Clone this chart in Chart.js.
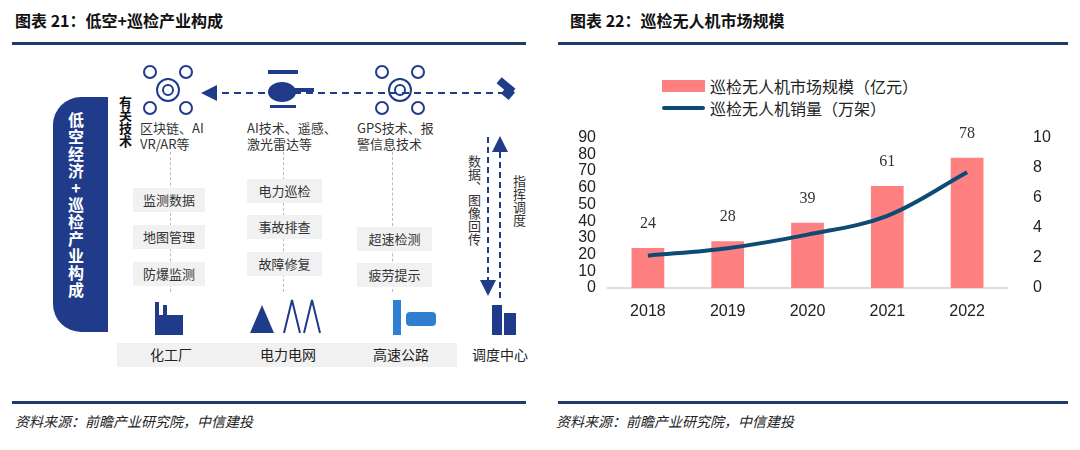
<!DOCTYPE html>
<html><head><meta charset="utf-8">
<script src="https://cdn.jsdelivr.net/npm/chart.js@4"></script>
<style>
body{margin:0;width:1080px;height:450px;background:#fff;font-family:"Noto Sans CJK SC","Liberation Sans",sans-serif;position:relative;overflow:hidden}
.a{position:absolute;white-space:nowrap}
.t{font-weight:bold;font-size:16px;color:#111;top:8px}
.rule{position:absolute;height:3px;background:#1f3b6e}
.src{font-style:italic;font-size:14px;color:#222;top:411px}
.box{position:absolute;background:#f1f1f1;font-size:13px;color:#333;text-align:center;line-height:24px}
.tech{font-size:13px;color:#333;line-height:16px}
.vt{writing-mode:vertical-rl;text-orientation:upright;width:18px}
.dl{position:absolute;border-left:1px dashed #bbb;width:0}
.lab{font-size:14px;color:#222}
</style></head><body>
<div class="a t" style="left:15px">图表 21：低空+巡检产业构成</div>
<div class="a t" style="left:570px">图表 22：巡检无人机市场规模</div>
<div class="rule" style="left:12px;width:514px;top:42px"></div>
<div class="rule" style="left:558px;width:510px;top:42px"></div>
<div class="rule" style="left:12px;width:514px;top:401px"></div>
<div class="rule" style="left:558px;width:510px;top:401px"></div>
<div class="a src" style="left:15px">资料来源：前瞻产业研究院，中信建投</div>
<div class="a src" style="left:556px">资料来源：前瞻产业研究院，中信建投</div>

<!-- left diagram -->
<div class="a" style="left:53px;top:97px;width:55px;height:235px;background:#1f3b8a;border-radius:28px 0 0 28px"></div>
<div class="a vt" style="left:69px;top:112px;height:215px;color:#fff;font-weight:bold;font-size:16px;line-height:22px;letter-spacing:1px">低空经济+巡检产业构成</div>
<div class="a vt" style="left:117px;top:96px;height:70px;font-weight:bold;font-size:13px;color:#111">有关技术</div>
<svg class="a" style="left:0;top:0" width="560" height="400">
 <defs><marker id="ah" markerWidth="8" markerHeight="8" refX="6" refY="4" orient="auto"><path d="M0,0 L8,4 L0,8z" fill="#1f3b8a"/></marker></defs>
 <line x1="505" y1="93" x2="205" y2="93" stroke="#1f3b8a" stroke-width="2" stroke-dasharray="7,5" marker-end="url(#ah)"/>
 <line x1="488" y1="137" x2="488" y2="292" stroke="#1f3b8a" stroke-width="2" stroke-dasharray="6,4" marker-end="url(#ah)"/>
 <line x1="500" y1="298" x2="500" y2="140" stroke="#1f3b8a" stroke-width="2" stroke-dasharray="6,4" marker-end="url(#ah)"/>
 <g fill="none" stroke="#1f3b8a" stroke-width="2">
  <circle cx="168" cy="90" r="11"/><circle cx="168" cy="90" r="5"/>
  <circle cx="150" cy="72" r="6"/><circle cx="186" cy="72" r="6"/><circle cx="150" cy="108" r="6"/><circle cx="186" cy="108" r="6"/>
  <circle cx="400" cy="90" r="11"/><circle cx="400" cy="90" r="5"/>
  <circle cx="382" cy="72" r="6"/><circle cx="418" cy="72" r="6"/><circle cx="382" cy="108" r="6"/><circle cx="418" cy="108" r="6"/>
 </g>
 <g fill="#1f3b8a">
  <rect x="268" y="70" width="30" height="4"/><ellipse cx="282" cy="92" rx="14" ry="10"/><rect x="292" y="88" width="22" height="4"/><rect x="270" y="105" width="26" height="3"/>
  <rect x="497" y="82" width="18" height="8" transform="rotate(40 506 86)"/><rect x="503" y="88" width="10" height="10" transform="rotate(40 508 93)"/>
  <rect x="155" y="315" width="28" height="20"/><rect x="155" y="302" width="4" height="14"/><rect x="163" y="305" width="4" height="11"/>
  <path d="M250,333 L262,305 L274,333z"/><path d="M284,333 L292,300 L300,333 M304,333 L312,300 L320,333" stroke="#1f3b8a" stroke-width="2" fill="none"/>
  <rect x="393" y="300" width="8" height="35" fill="#2f7fd0"/><rect x="406" y="312" width="30" height="14" rx="4" fill="#2f7fd0"/>
  <rect x="492" y="305" width="10" height="30"/><rect x="504" y="313" width="12" height="22"/>
 </g>
</svg>
<div class="dl" style="left:170px;top:152px;height:140px"></div>
<div class="dl" style="left:283px;top:152px;height:140px"></div>
<div class="dl" style="left:392px;top:152px;height:140px"></div>
<div class="a tech" style="left:140px;top:120px">区块链、AI<br>VR/AR等</div>
<div class="a tech" style="left:247px;top:120px">AI技术、遥感、<br>激光雷达等</div>
<div class="a tech" style="left:357px;top:120px">GPS技术、报<br>警信息技术</div>
<div class="box" style="left:133px;top:188px;width:72px">监测数据</div>
<div class="box" style="left:133px;top:225px;width:72px">地图管理</div>
<div class="box" style="left:133px;top:262px;width:72px">防爆监测</div>
<div class="box" style="left:247px;top:179px;width:75px">电力巡检</div>
<div class="box" style="left:247px;top:215px;width:75px">事故排查</div>
<div class="box" style="left:247px;top:252px;width:75px">故障修复</div>
<div class="box" style="left:357px;top:227px;width:75px">超速检测</div>
<div class="box" style="left:357px;top:263px;width:75px">疲劳提示</div>
<div class="a vt" style="left:464px;top:155px;height:120px;font-size:13px;color:#333;line-height:16px">数据、图像回传</div>
<div class="a vt" style="left:509px;top:175px;height:70px;font-size:13px;color:#333;line-height:16px">指挥调度</div>
<div class="a" style="left:117px;top:343px;width:340px;height:24px;background:#f1f1f1"></div>
<div class="a lab" style="left:150px;top:344px">化工厂</div>
<div class="a lab" style="left:260px;top:344px">电力电网</div>
<div class="a lab" style="left:373px;top:344px">高速公路</div>
<div class="a lab" style="left:472px;top:344px">调度中心</div>

<!-- right chart legend -->
<div class="a" style="left:662px;top:80px;width:43px;height:12px;background:#ff8080"></div>
<div class="a" style="left:710px;top:74px;font-size:16px;color:#222">巡检无人机市场规模（亿元）</div>
<div class="a" style="left:662px;top:106px;width:43px;height:4px;background:#0d4a75;border-radius:2px"></div>
<div class="a" style="left:710px;top:96px;font-size:16px;color:#222">巡检无人机销量（万架）</div>
<div class="a" style="left:560px;top:110px;width:500px;height:215px"><canvas id="c"></canvas></div>
<script>
const years=['2018','2019','2020','2021','2022'];
const marketSize=[24,28,39,61,78];
const sales=[2.15,2.65,3.55,4.8,7.7];
const leftTicks=[0,10,20,30,40,50,60,70,80,90];
const rightTicks=[0,2,4,6,8,10];
const tickFont={family:'"Liberation Sans",Arial',size:16};
new Chart(document.getElementById('c'),{
 data:{labels:years,datasets:[
  {type:'line',data:sales,yAxisID:'y1',borderColor:'#0d4a75',borderWidth:4,pointRadius:0,tension:0.35,order:0},
  {type:'bar',data:marketSize,yAxisID:'y',backgroundColor:'#ff8080',barPercentage:0.41,categoryPercentage:1,order:1}
 ]},
 options:{responsive:true,maintainAspectRatio:false,animation:false,
  layout:{padding:{top:16}},
  plugins:{legend:{display:false},tooltip:{enabled:false}},
  scales:{
   x:{grid:{display:false},border:{color:'#ddd',width:2},ticks:{color:'#222',font:tickFont,padding:6},afterFit:s=>{s.height=37}},
   y:{min:0,max:90,afterBuildTicks:s=>{s.ticks=leftTicks.map(v=>({value:v}))},grid:{display:false},border:{display:false},ticks:{color:'#222',font:tickFont,padding:4,autoSkip:false},afterFit:s=>{s.width=48}},
   y1:{position:'right',min:0,max:10,afterBuildTicks:s=>{s.ticks=rightTicks.map(v=>({value:v}))},grid:{display:false},border:{display:false},ticks:{color:'#222',font:tickFont,padding:18,autoSkip:false},afterFit:s=>{s.width=53}}
  }},
 plugins:[{id:'lbl',afterDatasetsDraw(ch){const m=ch.getDatasetMeta(1),ctx=ch.ctx;ctx.save();ctx.font='16px "Liberation Serif","Times New Roman"';ctx.fillStyle='#333';ctx.textAlign='center';ctx.textBaseline='bottom';
  m.data.forEach((b,i)=>ctx.fillText(marketSize[i],b.x,b.y-16));ctx.restore();}}]
});
</script>
</body></html>
